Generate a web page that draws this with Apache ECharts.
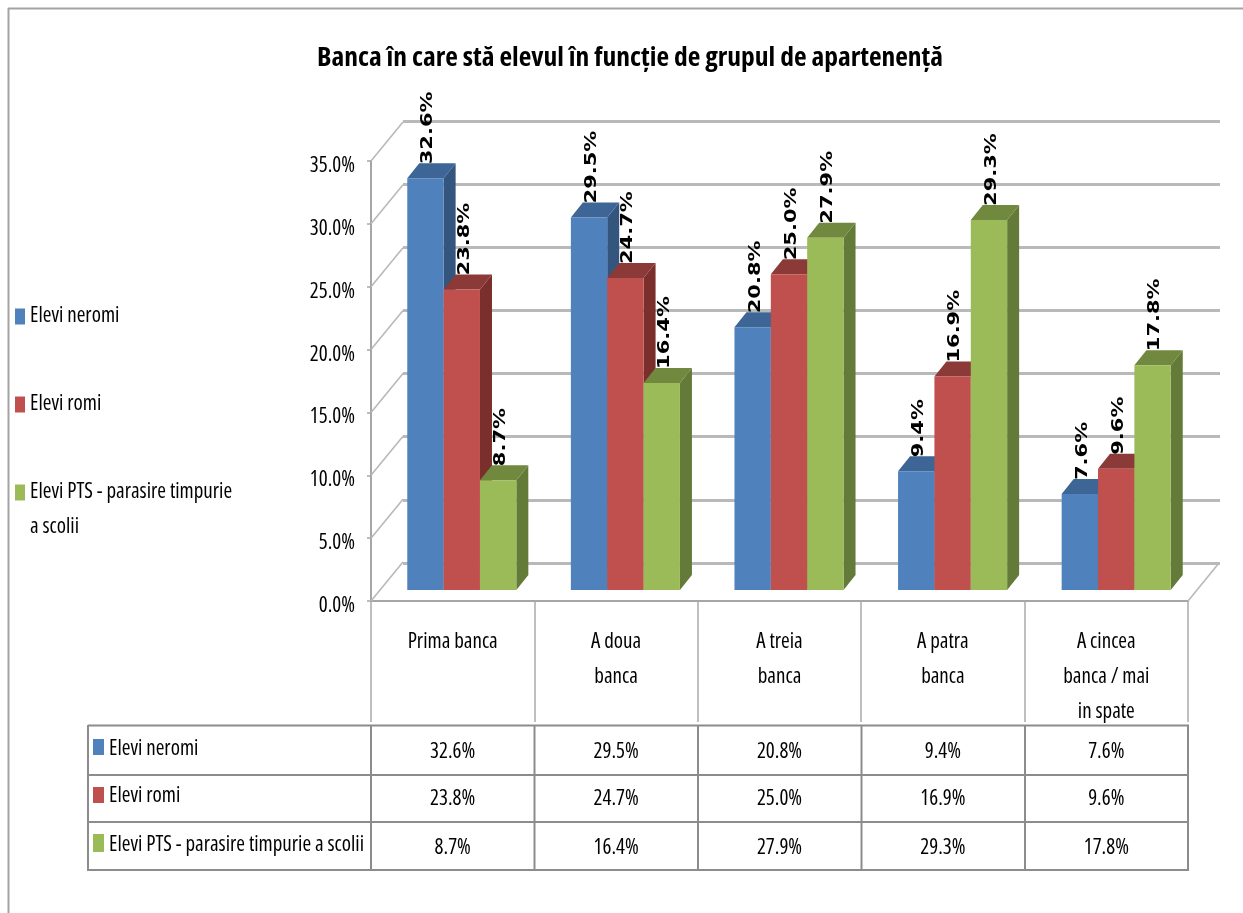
<!DOCTYPE html>
<html><head><meta charset="utf-8">
<style>html,body{margin:0;padding:0;background:#fff}#c{width:1243px;height:913px}</style>
<script src="https://cdn.jsdelivr.net/npm/echarts@6/dist/echarts.min.js"></script>
</head><body><div id="c"></div>
<script>
const titleText = 'Banca în care stă elevul în funcție de grupul de apartenență';
const categories = ['Prima banca', 'A doua\nbanca', 'A treia\nbanca', 'A patra\nbanca', 'A cincea\nbanca / mai\nin spate'];
const nameNeromi = 'Elevi neromi';
const nameRomi = 'Elevi romi';
const namePts = 'Elevi PTS - parasire timpurie a scolii';
const neromi = [32.6, 29.5, 20.8, 9.4, 7.6];
const romi = [23.8, 24.7, 25.0, 16.9, 9.6];
const pts = [8.7, 16.4, 27.9, 29.3, 17.8];
const yTicks = [0, 5, 10, 15, 20, 25, 30, 35];

const FAM = '"Open Sans"';
const CF = 'condensed 21px ' + FAM;
const cond = size => ({fontFamily: 'Open Sans', fontStyle: 'condensed', fontSize: size, color: '#000'});
const GRID = '#b9b9b9', LINE = '#a6a6a6', TBL = '#8c8c8c';
const fmt = v => v.toFixed(1) + '%';
const allSeries = [
  {name: nameNeromi, data: neromi, front: '#4f81bd', side: '#34557e', top: '#3d6596'},
  {name: nameRomi, data: romi, front: '#c0504d', side: '#7a2f2d', top: '#8c3a38'},
  {name: namePts, data: pts, front: '#9bbb59', side: '#637a38', top: '#71893f'}
];
const DX = 12, DY = -15;
const barSeries = allSeries.map((s, si) => ({
  type: 'custom', name: s.name, xAxisIndex: 1, yAxisIndex: 1, z: 3 + si,
  itemStyle: {color: s.front},
  data: s.data.map((v, i) => [i, v]),
  encode: {x: 0, y: 1},
  renderItem(params, api) {
    const band = api.size([1, 0])[0], w = band / 4.5;
    const c = api.coord([api.value(0), api.value(1)]);
    const b = api.coord([api.value(0), 0]);
    const x0 = c[0] - 1.5 * w + si * w, x1 = x0 + w, y0 = c[1], y1 = b[1];
    const poly = (p, fill) => ({type: 'polygon', shape: {points: p}, style: {fill, stroke: null}});
    return {type: 'group', children: [
      poly([[x1, y0], [x1 + DX, y0 + DY], [x1 + DX, y1 + DY], [x1, y1]], s.side),
      poly([[x0, y0], [x0 + DX, y0 + DY], [x1 + DX, y0 + DY], [x1, y0]], s.top),
      poly([[x0, y0], [x1, y0], [x1, y1], [x0, y1]], s.front),
      {type: 'text', x: (x0 + x1) / 2 + 3, y: y0 + DY + 1, rotation: Math.PI / 2, scaleX: 1.4, z2: 100,
       style: {text: fmt(api.value(1)), align: 'left', verticalAlign: 'middle',
               font: 'bold 15px "DejaVu Sans"', fill: '#000'}}
    ]};
  }
}));
const slantSeries = {
  type: 'custom', silent: true, xAxisIndex: 0, yAxisIndex: 0, z: 1,
  data: yTicks.map(v => [0, v]),
  renderItem(params, api) {
    const p = api.coord([0, api.value(1)]);
    const x = p[0] - api.size([1, 0])[0] / 2;
    return {type: 'line', shape: {x1: x, y1: p[1], x2: x + 32, y2: p[1] - 39}, style: {stroke: GRID, lineWidth: 1.6}};
  }
};
const floorRight = {
  type: 'custom', silent: true, xAxisIndex: 0, yAxisIndex: 0, z: 1,
  data: [[4, 0]],
  renderItem(params, api) {
    const p = api.coord([4, 0]);
    const x = p[0] + api.size([1, 0])[0] / 2;
    return {type: 'line', shape: {x1: x, y1: p[1], x2: x + 31, y2: p[1] - 38}, style: {stroke: GRID, lineWidth: 1.6}};
  }
};
const ROWS = [749, 796, 845], VALROWS = [752, 799, 848];
const tableSeries = allSeries.map((s, si) => ({
  type: 'custom', silent: true, xAxisIndex: 0, yAxisIndex: 0, z: 6,
  data: s.data.map((v, i) => [i, v]),
  renderItem(params, api) {
    const p = api.coord([api.value(0), 0]);
    return {type: 'text', x: p[0], y: VALROWS[si],
      style: {text: fmt(api.value(1)), align: 'center', verticalAlign: 'middle', font: CF, fill: '#000'}};
  }
}));
const hl = (x1, y, x2, c, lw) => ({type: 'line', silent: true, shape: {x1, y1: y, x2, y2: y}, style: {stroke: c, lineWidth: lw}});
const vl = (x, y1, y2, c, lw) => ({type: 'line', silent: true, shape: {x1: x, y1, x2: x, y2}, style: {stroke: c, lineWidth: lw}});
const txt = (x, y, t) => ({type: 'text', silent: true, x, y, style: {text: t, font: CF, fill: '#000', verticalAlign: 'middle'}});
const graphics = [
  hl(8, 8.5, 1243, '#a3a3a3', 2), vl(8.5, 8, 913, '#a3a3a3', 2),
  txt(30, 527, 'a scolii'),
  hl(88, 725.5, 1189, TBL, 2), hl(88, 775, 1189, TBL, 2), hl(88, 822, 1189, TBL, 2), hl(88, 870, 1189, TBL, 2),
  vl(88, 725, 871, TBL, 2)
];
[371, 534.5, 698, 861.5, 1025, 1188].forEach(x => graphics.push(vl(x, 725, 871, TBL, 2)));
allSeries.forEach((s, i) => {
  graphics.push({type: 'rect', silent: true, shape: {x: 93, y: [739, 787, 834][i], width: 11, height: [16, 16, 18][i]}, style: {fill: s.front}});
  graphics.push(txt(109, ROWS[i], s.name));
});
const chart = echarts.init(document.getElementById('c'));
chart.setOption({
  animation: false, backgroundColor: '#fff',
  title: {text: titleText, left: 625, top: 39, textAlign: 'center',
    textStyle: Object.assign(cond(27.5), {fontWeight: 'bold'})},
  legend: {show: true, orient: 'vertical', left: 15, top: 306, padding: 0, itemWidth: 10, itemHeight: 16, itemGap: 67, icon: 'rect',
    data: [nameNeromi, nameRomi, namePts],
    formatter: n => n === namePts ? 'Elevi PTS - parasire timpurie' : n,
    textStyle: cond(21)},
  grid: [
    {left: 371, width: 817, top: 161, height: 440},
    {left: 380, width: 818, top: 148, height: 442},
    {left: 403, width: 817, top: 121, height: 442}
  ],
  xAxis: [
    {type: 'category', gridIndex: 0, data: categories,
     axisLine: {lineStyle: {color: LINE, width: 2}},
     axisTick: {show: true, length: 121, lineStyle: {color: '#aaaaaa', width: 1.5}},
     axisLabel: Object.assign(cond(21), {lineHeight: 35, margin: 24, verticalAlign: 'top', interval: 0})},
    {type: 'category', gridIndex: 1, data: categories, show: false},
    {type: 'category', gridIndex: 2, data: categories, show: false}
  ],
  yAxis: [
    {type: 'value', gridIndex: 0, min: 0, max: 35, interval: 5,
     axisLine: {show: true, lineStyle: {color: LINE, width: 2}},
     axisTick: {show: true, length: 4, lineStyle: {color: LINE, width: 1.5}},
     splitLine: {show: false},
     axisLabel: Object.assign(cond(21), {formatter: fmt, margin: 16, verticalAlign: 'top', lineHeight: 10})},
    {type: 'value', gridIndex: 1, min: 0, max: 35, interval: 5, show: false, splitLine: {show: false}},
    {type: 'value', gridIndex: 2, min: 0, max: 35, interval: 5, axisLine: {show: false}, axisTick: {show: false}, axisLabel: {show: false},
     splitLine: {show: true, lineStyle: {color: GRID, width: 3}}}
  ],
  series: [slantSeries, floorRight, ...barSeries, ...tableSeries],
  graphic: graphics
});
</script></body></html>
